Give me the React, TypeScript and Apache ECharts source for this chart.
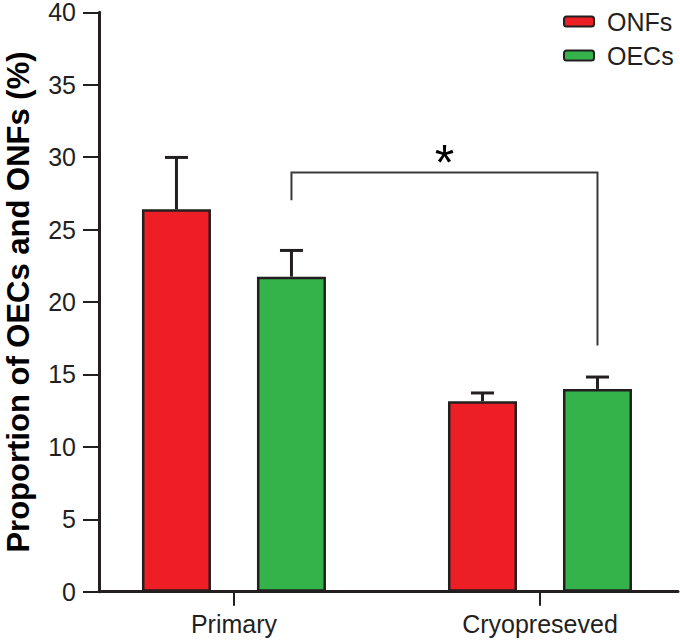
import React, { useEffect, useRef } from "react";
import * as echarts from "echarts";

const categories = ["Primary", "Cryopreseved"];
const onfsMean = [26.4, 13.15];
const onfsErrTop = [29.98, 13.72];
const oecsMean = [21.75, 14.0];
const oecsErrTop = [23.56, 14.82];
const yTicks = { min: 0, max: 40, step: 5 };
// significance bracket: from Primary OECs to Cryopreseved OECs
const bracket = { top: 28.94, leftEnd: 27.03, rightEnd: 17.0, label: "*" };

const INK = "#231f20";
const FONT = "'Liberation Sans', Arial, Helvetica, sans-serif";
const BAR_W = 69;
const BAR_GAP = 46;
const HALF = (BAR_W + BAR_GAP) / 2;

export default function App() {
  const ref = useRef<HTMLDivElement>(null);
  useEffect(() => {
    document.body.style.margin = "0";
    const chart = echarts.init(ref.current!, null, { renderer: "svg" });
    const xs = categories.map((_, i) => i + 1);

    const errRender = (offset: number) => (params: any, api: any) => {
      const x = api.value(0);
      const base = api.coord([x, api.value(1)]);
      const top = api.coord([x, api.value(2)]);
      const cx = base[0] + offset;
      return {
        type: "group",
        children: [
          {
            type: "line",
            shape: { x1: cx, y1: base[1], x2: cx, y2: top[1] },
            style: { stroke: INK, lineWidth: 3 },
          },
          {
            type: "line",
            shape: { x1: cx - 11.5, y1: top[1], x2: cx + 11.5, y2: top[1] },
            style: { stroke: INK, lineWidth: 3 },
          },
        ],
      };
    };

    chart.setOption({
      animation: false,
      backgroundColor: "#ffffff",
      textStyle: { fontFamily: FONT },
      grid: {
        left: 99,
        right: 2,
        top: 12.3,
        bottom: 52.3,
        containLabel: false,
        outerBoundsMode: "none",
      },
      legend: {
        orient: "vertical",
        left: 563,
        top: 9,
        padding: 0,
        itemWidth: 30,
        itemHeight: 10,
        itemGap: 9,
        textStyle: { fontSize: 25, color: INK, fontFamily: FONT, padding: [0, 0, 0, 8] },
        data: ["ONFs", "OECs"],
      },
      xAxis: {
        type: "value",
        min: 0.559,
        max: 2.451,
        splitLine: { show: false },
        axisLine: { show: true, lineStyle: { color: INK, width: 3 } },
        axisTick: {
          show: true,
          length: 14,
          lineStyle: { color: INK, width: 2 },
          customValues: xs,
        },
        axisLabel: {
          customValues: xs,
          margin: 20,
          fontSize: 25,
          color: INK,
          fontFamily: FONT,
          formatter: (v: number) => categories[Math.round(v) - 1] ?? "",
        },
      },
      yAxis: {
        type: "value",
        min: yTicks.min,
        max: yTicks.max,
        interval: yTicks.step,
        splitLine: { show: false },
        axisLine: { show: true, lineStyle: { color: INK, width: 3 } },
        axisTick: { show: true, length: 16, lineStyle: { color: INK, width: 2 } },
        axisLabel: { fontSize: 25, lineHeight: 22, color: INK, margin: 23, fontFamily: FONT },
        name: "Proportion of OECs and ONFs (%)",
        nameLocation: "middle",
        nameRotate: 90,
        nameGap: 65,
        nameTextStyle: { fontSize: 31, fontWeight: "bold", color: "#000", fontFamily: FONT },
      },
      series: [
        {
          name: "ONFs",
          type: "bar",
          barWidth: BAR_W,
          barGap: (BAR_GAP / BAR_W) * 100 + "%",
          itemStyle: { color: "#ed1f24", borderColor: INK, borderWidth: 2.5 },
          data: xs.map((x, i) => [x, onfsMean[i]]),
          z: 2,
        },
        {
          name: "OECs",
          type: "bar",
          barWidth: BAR_W,
          barGap: (BAR_GAP / BAR_W) * 100 + "%",
          itemStyle: { color: "#33b34a", borderColor: INK, borderWidth: 2.5 },
          data: xs.map((x, i) => [x, oecsMean[i]]),
          z: 2,
        },
        {
          type: "custom",
          renderItem: errRender(-HALF),
          data: xs.map((x, i) => [x, onfsMean[i], onfsErrTop[i]]),
          z: 3,
          silent: true,
          clip: false,
        },
        {
          type: "custom",
          renderItem: errRender(HALF),
          data: xs.map((x, i) => [x, oecsMean[i], oecsErrTop[i]]),
          z: 3,
          silent: true,
          clip: false,
        },
        {
          type: "custom",
          silent: true,
          clip: false,
          z: 3,
          data: [[1, 2, bracket.top, bracket.leftEnd, bracket.rightEnd]],
          renderItem: (params: any, api: any) => {
            const l = api.coord([api.value(0), api.value(3)]);
            const r = api.coord([api.value(1), api.value(4)]);
            const t = api.coord([api.value(0), api.value(2)]);
            const lx = l[0] + HALF;
            const rx = r[0] + HALF;
            return {
              type: "group",
              children: [
                {
                  type: "polyline",
                  shape: { points: [[lx, l[1]], [lx, t[1]], [rx, t[1]], [rx, r[1]]] },
                  style: { stroke: "#3a3a3a", lineWidth: 2, fill: "none" },
                },
                {
                  type: "text",
                  x: (lx + rx) / 2,
                  y: t[1] - 10,
                  style: {
                    text: bracket.label,
                    fontSize: 50,
                    fontFamily: FONT,
                    fill: "#000",
                    align: "center",
                    verticalAlign: "middle",
                  },
                },
              ],
            };
          },
        },
      ],
    });
    return () => chart.dispose();
  }, []);
  return <div ref={ref} style={{ width: 680, height: 644 }} />;
}
